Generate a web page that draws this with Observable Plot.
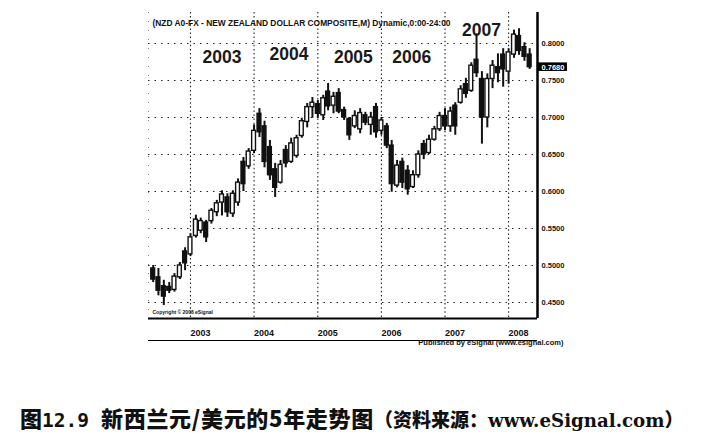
<!DOCTYPE html>
<html><head><meta charset="utf-8">
<script src="https://cdn.jsdelivr.net/npm/d3@7"></script>
<script src="https://cdn.jsdelivr.net/npm/@observablehq/plot@0.6"></script>
<style>
html,body{margin:0;padding:0;background:#fff;}
body{width:718px;height:446px;overflow:hidden;position:relative;}
#chart{position:absolute;left:0;top:0;}
#caption{position:absolute;left:20px;top:406px;white-space:nowrap;line-height:22px;color:#111;}
.cjk{font-family:"Noto Sans CJK SC",sans-serif;font-weight:900;font-size:22px;}
.num{font-family:"DejaVu Sans Mono",monospace;font-weight:bold;font-size:19.5px;}
.src{font-family:"Noto Sans CJK SC",sans-serif;font-weight:900;font-size:19px;}
.url{font-family:"DejaVu Serif",serif;font-weight:bold;font-size:18.2px;}
</style></head><body>
<div id="chart"></div>
<div id="caption"><span class="cjk">图</span><span class="num">12.9</span><span class="cjk" style="margin-left:12px;letter-spacing:0.7px">新西兰元/美元的5年走势图</span><span class="src">（资料来源：</span><span class="url">www.eSignal.com</span><span class="src">）</span></div>
<script>
const months = [
  "2002-06","2002-07","2002-08","2002-09","2002-10","2002-11","2002-12",
  "2003-01","2003-02","2003-03","2003-04","2003-05","2003-06","2003-07","2003-08","2003-09","2003-10","2003-11","2003-12",
  "2004-01","2004-02","2004-03","2004-04","2004-05","2004-06","2004-07","2004-08","2004-09","2004-10","2004-11","2004-12",
  "2005-01","2005-02","2005-03","2005-04","2005-05","2005-06","2005-07","2005-08","2005-09","2005-10","2005-11","2005-12",
  "2006-01","2006-02","2006-03","2006-04","2006-05","2006-06","2006-07","2006-08","2006-09","2006-10","2006-11","2006-12",
  "2007-01","2007-02","2007-03","2007-04","2007-05","2007-06","2007-07","2007-08","2007-09","2007-10","2007-11","2007-12",
  "2008-01","2008-02","2008-03","2008-04","2008-05"
];
const open = [
  .496,.484,.472,.471,.467,.484,.519,
  .515,.540,.547,.558,.560,.572,.585,.592,.570,.585,.640,.634,
  .655,.705,.688,.660,.630,.612,.656,.640,.648,.675,.694,.714,
  .718,.703,.735,.716,.733,.710,.698,.688,.684,.703,.690,.714,
  .682,.688,.662,.608,.640,.628,.606,.622,.664,.652,.670,.684,
  .702,.688,.716,.720,.745,.736,.778,.752,.700,.752,.768,.785,
  .762,.785,.810,.795,.785
];
const high = [
  .500,.496,.480,.477,.489,.504,.524,
  .543,.568,.564,.561,.577,.588,.601,.597,.601,.617,.646,.658,
  .690,.712,.695,.669,.638,.642,.662,.672,.676,.699,.719,.727,
  .723,.730,.746,.734,.739,.714,.700,.709,.712,.707,.707,.719,
  .700,.692,.669,.642,.645,.635,.628,.655,.669,.676,.688,.707,
  .712,.714,.720,.743,.753,.774,.813,.762,.759,.777,.786,.793,
  .793,.818,.820,.801,.793
];
const low = [
  .477,.459,.446,.462,.464,.481,.493,
  .512,.537,.543,.531,.556,.566,.567,.565,.565,.580,.600,.630,
  .651,.673,.632,.615,.592,.610,.632,.638,.645,.672,.686,.699,
  .699,.696,.709,.705,.705,.696,.669,.685,.678,.689,.676,.672,
  .676,.658,.599,.605,.604,.595,.604,.618,.643,.650,.668,.681,
  .682,.680,.676,.718,.726,.734,.754,.664,.686,.739,.747,.741,
  .745,.780,.784,.776,.765
];
const close = [
  .481,.466,.458,.466,.485,.500,.503,
  .538,.562,.560,.538,.574,.584,.596,.572,.597,.612,.610,.654,
  .682,.680,.640,.622,.605,.636,.638,.665,.672,.695,.714,.720,
  .705,.726,.715,.728,.708,.700,.676,.702,.706,.693,.700,.680,
  .696,.662,.610,.635,.612,.603,.622,.650,.650,.670,.684,.702,
  .688,.708,.688,.738,.732,.770,.760,.700,.752,.770,.760,.765,
  .788,.812,.790,.782,.768
];
const priceTicks = [0.45, 0.50, 0.55, 0.60, 0.65, 0.70, 0.75, 0.80];
const yearTicks = ["2003","2004","2005","2006","2007","2008"];
const bigYears = ["2003","2004","2005","2006","2007"];
const bigYearDates = ["2003-07-01","2004-07-20","2005-07-24","2006-06-24","2007-07-30"];
const bigYearPrices = [0.781, 0.785, 0.781, 0.781, 0.818];
const titleText = "(NZD A0-FX - NEW ZEALAND DOLLAR COMPOSITE,M) Dynamic,0:00-24:00";
const copyrightText = "Copyright © 2008 eSignal";
const publishedText = "Published by eSignal (www.esignal.com)";

const candles = months.map((m, i) => ({
  date: new Date(m + "-01T00:00:00Z"),
  open: open[i], high: high[i], low: low[i], close: close[i]
}));
const yearDates = yearTicks.map(y => new Date(y + "-01-01T00:00:00Z"));
const xDomain = [new Date("2002-05-05T00:00:00Z"), new Date("2008-06-15T00:00:00Z")];
const yDomain = [0.42838, 0.84189];
const last = candles[candles.length - 1];
const font = "'Liberation Sans', Arial, sans-serif";

const chart = Plot.plot({
  width: 718, height: 350,
  marginLeft: 148, marginRight: 181, marginTop: 12, marginBottom: 32,
  x: {type: "utc", domain: xDomain, axis: null},
  y: {domain: yDomain, axis: null},
  style: {fontFamily: font, background: "white", overflow: "visible", color: "#111"},
  marks: [
    Plot.ruleY(priceTicks, {stroke: "#222", strokeDasharray: "1.5,5", strokeWidth: 1.1}),
    Plot.ruleX(yearDates, {stroke: "#222", strokeDasharray: "1.5,2.6", strokeWidth: 1.1}),
    Plot.ruleX([xDomain[0]], {stroke: "#777", strokeDasharray: "1,8", strokeWidth: 1}),
    Plot.ruleX(candles, {x: "date", y1: "low", y2: "high", stroke: "#111", strokeWidth: 2}),
    Plot.rect(candles, {
      x1: d => d3.utcDay.offset(d.date, -11),
      x2: d => d3.utcDay.offset(d.date, 11),
      y1: "open", y2: "close",
      fill: d => d.close >= d.open ? "white" : "#111",
      stroke: "#111", strokeWidth: 1.4
    }),
    Plot.ruleX([xDomain[1]], {stroke: "#000", strokeWidth: 2.5}),
    Plot.ruleY([yDomain[0]], {stroke: "#000", strokeWidth: 2}),
    Plot.ruleY([yDomain[0]], {stroke: "#000", strokeWidth: 1.2, dy: 22}),
    Plot.text(priceTicks, {y: d => d, frameAnchor: "right", dx: 4, textAnchor: "start",
      text: d => d.toFixed(4), fontSize: 7.5, fontWeight: "bold"}),
    Plot.rect([last], {
      x1: () => xDomain[1], x2: () => d3.utcDay.offset(xDomain[1], 172),
      y1: d => d.close - 0.0058, y2: d => d.close + 0.0058, fill: "#000"
    }),
    Plot.text([last], {y: "close", frameAnchor: "right", dx: 4, textAnchor: "start",
      text: d => d.close.toFixed(4), fill: "white", fontSize: 7.5, fontWeight: "bold"}),
    Plot.text(yearDates, {x: d => d, frameAnchor: "bottom", dy: 17, textAnchor: "start",
      text: yearTicks, fontSize: 9, fontWeight: "bold"}),
    Plot.text([titleText], {frameAnchor: "top-left", dx: 4, dy: 8, textAnchor: "start",
      text: d => d, fontSize: 8.4, fontWeight: "bold"}),
    Plot.text([copyrightText], {frameAnchor: "bottom-left", dx: 4, dy: -5, textAnchor: "start",
      text: d => d, fontSize: 5, fontWeight: "bold"}),
    Plot.text([publishedText], {frameAnchor: "bottom-right", dx: 26, dy: 26.5, textAnchor: "end",
      text: d => d, fontSize: 7.5, fontWeight: "bold"}),
    Plot.text(bigYears, {x: bigYearDates.map(d => new Date(d + "T00:00:00Z")), y: bigYearPrices,
      text: d => d, fontSize: 17.5, fontWeight: "bold", fill: "#1a1a1a"})
  ]
});
document.getElementById("chart").appendChild(chart);
</script>
</body></html>
